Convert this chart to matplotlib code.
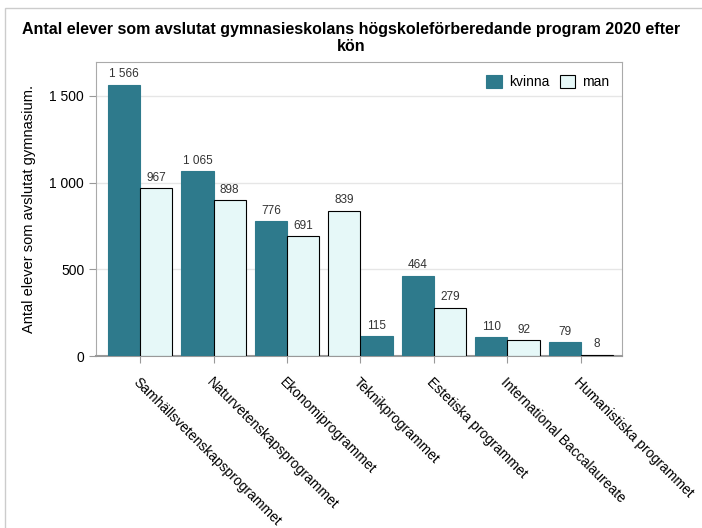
import numpy as np
import matplotlib.pyplot as plt
from matplotlib.patches import Rectangle

plt.rcParams['font.family'] = ['Liberation Sans', 'DejaVu Sans']

programs = ['Samhällsvetenskapsprogrammet', 'Naturvetenskapsprogrammet',
            'Ekonomiprogrammet', 'Teknikprogrammet', 'Estetiska programmet',
            'International Baccalaureate', 'Humanistiska programmet']
kvinna = [1566, 1065, 776, 115, 464, 110, 79]
man = [967, 898, 691, 839, 279, 92, 8]
# in the source the man bar comes first for Teknikprogrammet
man_first = [False, False, False, True, False, False, False]

dark = '#2e7a8c'
light = '#e6f8f8'


def fmt(v):
    return '{:,}'.format(int(v)).replace(',', '\u00a0')


fig = plt.figure(figsize=(7.02, 5.28), dpi=100)
ax = fig.add_axes([96/702, 1-356/528, (622-96)/702, (356-62)/528])

w = 0.44
x = np.arange(len(programs))
for i in range(len(programs)):
    if man_first[i]:
        xm, xk = x[i] - w/2, x[i] + w/2
    else:
        xk, xm = x[i] - w/2, x[i] + w/2
    ax.bar(xk, kvinna[i], w, color=dark, edgecolor=dark, linewidth=0.8,
           label='kvinna' if i == 0 else None, zorder=3)
    ax.bar(xm, man[i], w, color=light, edgecolor='black', linewidth=0.8,
           label='man' if i == 0 else None, zorder=3)
    ax.text(xk, kvinna[i] + 25, fmt(kvinna[i]), ha='center', va='bottom',
            fontsize=8.5, color='#333333')
    ax.text(xm, man[i] + 25, fmt(man[i]), ha='center', va='bottom',
            fontsize=8.5, color='#333333')

ax.set_xlim(-0.6, 6.56)
ax.set_ylim(0, 1696)
ax.set_yticks([0, 500, 1000, 1500])
ax.set_yticklabels([fmt(v) for v in [0, 500, 1000, 1500]], fontsize=10)
ax.set_xticks(x)
ax.set_xticklabels(programs, rotation=-45, ha='left', va='top',
                   rotation_mode='anchor', fontsize=10)
ax.tick_params(axis='x', length=5, color='#999999', pad=9)
ax.tick_params(axis='y', length=5, color='#999999')
ax.grid(axis='y', color='#e6e6e6', linewidth=1, zorder=0)
for s in ax.spines.values():
    s.set_color('#aaaaaa')
ax.spines['bottom'].set_color('#999999')
ax.spines['bottom'].set_linewidth(1.5)

ax.set_ylabel('Antal elever som avslutat gymnasium.', fontsize=10.5, labelpad=10)
ax.legend(loc='upper right', ncol=2, frameon=False, fontsize=10,
          handlelength=1.1, handleheight=1.1, columnspacing=0.8,
          handletextpad=0.5, bbox_to_anchor=(1.0, 1.0))

fig.text(0.5, 1-38/528, 'Antal elever som avslutat gymnasieskolans högskoleförberedande program 2020 efter\nkön',
         ha='center', va='center', fontsize=11.5, fontweight='bold', linespacing=1.15)

fig.patches.append(Rectangle((5/702, -0.01), 1.0, 1-8/528+0.01, transform=fig.transFigure,
                             fill=False, edgecolor='#cccccc', linewidth=1))

fig.savefig('out.png', dpi=100)
